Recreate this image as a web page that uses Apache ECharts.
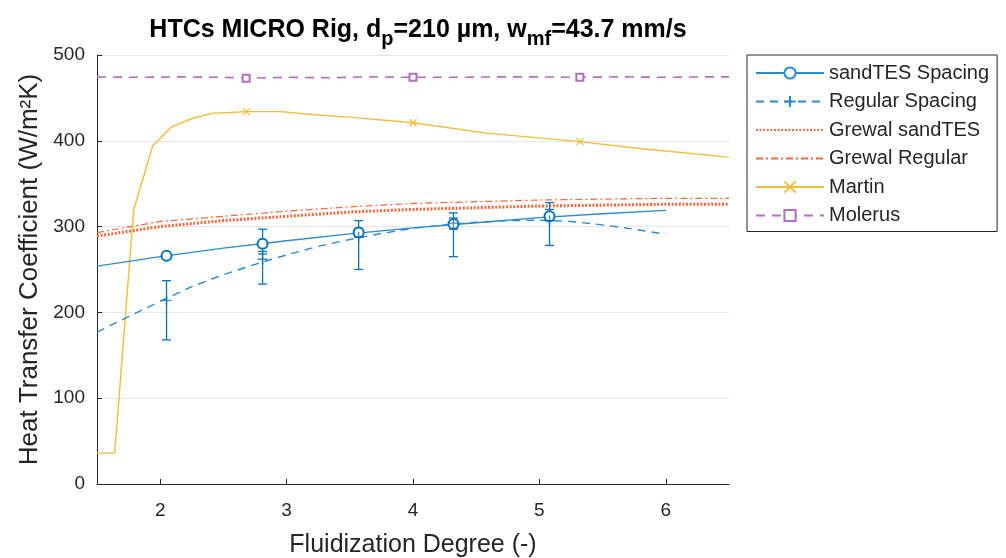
<!DOCTYPE html>
<html>
<head>
<meta charset="utf-8">
<script src="https://cdn.jsdelivr.net/npm/echarts@6/dist/echarts.min.js"></script>
<style>
html,body{margin:0;padding:0;background:#fff;}
#chart{width:1006px;height:558px;}
</style>
</head>
<body>
<div id="chart"></div>
<script>
// ---- data ----
const xTicks = [2, 3, 4, 5, 6];
const yTicks = [0, 100, 200, 300, 400, 500];

// sandTES Spacing: fit curve + measured points with error bars
const sandFitX = [1.5, 2, 2.5, 3, 3.5, 4, 4.5, 5, 5.5, 6];
const sandFitY = [254, 265, 275, 283.5, 291.5, 298.5, 304.5, 310.5, 315, 319];
const sandPtX = [2.05, 2.81, 3.57, 4.32, 5.08];
const sandPtY = [266, 280, 293, 303, 312];
const sandErrLo = [263, 268, 288, 297, 307];
const sandErrHi = [269, 297, 307, 310, 320];

// Regular Spacing: fit curve + measured points with error bars
const regFitX = [1.5, 1.75, 2, 2.25, 2.5, 2.75, 3, 3.25, 3.5, 3.75, 4, 4.25, 4.5, 4.75, 5, 5.25, 5.5, 5.75, 6];
const regFitY = [177, 195, 213, 230, 244, 256, 267, 277, 285, 292, 298, 302, 305, 307, 307.5, 306, 302, 297, 291];
const regPtX = [2.05, 2.81, 3.57, 4.32, 5.08];
const regPtY = [214, 262, 288, 304, 307];
const regErrLo = [168, 233, 250, 265, 278];
const regErrHi = [237, 271, 298, 316, 328];

// Grewal correlations
const grewalX = [1.5, 2, 2.5, 3, 3.5, 4, 4.5, 5, 5.5, 6, 6.5];
const grewalSandY = [289, 300, 307, 312, 317, 320, 322, 324, 325, 326, 326];
const grewalRegY = [293, 306, 312, 318, 323, 327, 329, 331, 332, 333, 333];

// Martin correlation
const martinX = [1.5, 1.64, 1.79, 1.94, 2.09, 2.25, 2.41, 2.55, 2.68, 2.96, 3.17, 3.54, 4.0, 4.58, 5.32, 5.79, 6.5];
const martinY = [36, 36, 319, 394, 416, 426, 432, 433, 434, 434, 431, 427, 421, 409, 399, 391, 381];
const martinMarkX = [2.68, 4.0, 5.32];

// Molerus correlation
const molerusX = [1.5, 1.83, 2.16, 2.49, 2.68, 3.01, 3.34, 3.67, 4.0, 4.33, 4.66, 4.99, 5.32, 5.65, 5.98, 6.31, 6.5];
const molerusY = [474.5, 474, 474.5, 474, 473, 474, 473.5, 474.5, 474, 474, 474.5, 474.5, 474, 474.5, 474, 474.5, 474.5];
const molerusMarkX = [2.68, 4.0, 5.32];

// ---- build ----
const BLUE_LINE = '#2a8ccf';
const BLUE_BAR = '#0a72ba';
const ORANGE = '#f4683b';
const YELLOW = '#f5bb3a';
const PURPLE = '#b36ebf';
const TXT = '#262626';
const CLEAR = 'rgba(0,0,0,0)';
const FONT = '"Liberation Sans", Arial, Helvetica, sans-serif';

const zip = (xs, ys) => xs.map((x, i) => [x, ys[i]]);
const marked = (xs, ys, marks) => xs.map((x, i) => marks.includes(x) ? { value: [x, ys[i]] } : { value: [x, ys[i]], symbol: 'none' });

const PLUS = 'path://M5,0 L5,10 M0,5 L10,5';
const CROSS = 'path://M0,0 L10,10 M10,0 L0,10';

function errBar(color) {
  return function (params, api) {
    const x = api.value(0);
    const lo = api.coord([x, api.value(1)]);
    const hi = api.coord([x, api.value(2)]);
    const w = 4.5;
    const style = { stroke: color, lineWidth: 1.3, fill: null };
    return {
      type: 'group',
      children: [
        { type: 'line', shape: { x1: lo[0], y1: lo[1], x2: hi[0], y2: hi[1] }, style },
        { type: 'line', shape: { x1: lo[0] - w, y1: lo[1], x2: lo[0] + w, y2: lo[1] }, style },
        { type: 'line', shape: { x1: hi[0] - w, y1: hi[1], x2: hi[0] + w, y2: hi[1] }, style }
      ]
    };
  };
}

const chart = echarts.init(document.getElementById('chart'), null, { renderer: 'canvas' });

const option = {
  animation: false,
  backgroundColor: '#ffffff',
  textStyle: { fontFamily: FONT, color: TXT },
  title: {
    text: '{a|HTCs MICRO Rig, d}{s|p}{a|=210 µm, w}{s|mf}{a|=43.7 mm/s}',
    left: 413,
    textAlign: 'center',
    top: 13,
    textStyle: {
      rich: {
        a: { fontFamily: FONT, fontSize: 25, fontWeight: 'bold', color: '#000', lineHeight: 32, verticalAlign: 'top' },
        s: { fontFamily: FONT, fontSize: 20, fontWeight: 'bold', color: '#000', lineHeight: 32, verticalAlign: 'top', padding: [11, 0, 0, 0] }
      }
    }
  },
  grid: { left: 97, right: 277, top: 55, bottom: 74, containLabel: false, outerBoundsMode: 'none' },
  legend: {
    orient: 'vertical',
    left: 747,
    top: 55,
    padding: [8, 8, 6, 8],
    backgroundColor: '#fff',
    borderColor: TXT,
    borderWidth: 1,
    borderRadius: 0,
    itemWidth: 68,
    itemHeight: 14,
    itemGap: 8.5,
    textStyle: { fontFamily: FONT, fontSize: 20, color: TXT, lineHeight: 20 },
    data: ['sandTES Spacing', 'Regular Spacing', 'Grewal sandTES', 'Grewal Regular', 'Martin', 'Molerus']
  },
  xAxis: {
    type: 'value',
    min: 1.5,
    max: 6.5,
    name: 'Fluidization Degree (-)',
    nameLocation: 'middle',
    nameGap: 49,
    nameTextStyle: { fontFamily: FONT, fontSize: 25, color: TXT },
    axisLine: { show: true, onZero: false, lineStyle: { color: TXT, width: 1 } },
    axisTick: { show: true, inside: true, length: 5, customValues: xTicks, lineStyle: { color: TXT } },
    axisLabel: { customValues: xTicks, fontFamily: FONT, fontSize: 19, color: TXT, margin: 17 },
    splitLine: { show: false }
  },
  yAxis: {
    type: 'value',
    min: 0,
    max: 500,
    interval: 100,
    name: 'Heat Transfer Coefficient (W/m²K)',
    nameLocation: 'middle',
    nameGap: 54,
    nameTextStyle: { fontFamily: FONT, fontSize: 26, color: TXT },
    axisLine: { show: true, lineStyle: { color: TXT, width: 1 } },
    axisTick: { show: true, inside: true, length: 5, lineStyle: { color: TXT } },
    axisLabel: { fontFamily: FONT, fontSize: 19, color: TXT, margin: 12 },
    splitLine: { show: true, lineStyle: { color: '#e6e6e6', width: 1 } }
  },
  series: [
    {
      name: 'sandTES Spacing', type: 'line', data: zip(sandFitX, sandFitY),
      symbol: 'emptyCircle', symbolSize: 12, showSymbol: false,
      lineStyle: { color: BLUE_LINE, width: 1.3, type: 'solid' },
      itemStyle: { color: BLUE_LINE, borderColor: BLUE_LINE, borderWidth: 1.3 },
      z: 5
    },
    {
      name: 'Regular Spacing', type: 'line', data: zip(regFitX, regFitY),
      symbol: PLUS, symbolSize: 14, showSymbol: false,
      lineStyle: { color: BLUE_LINE, width: 1.4, type: [8, 6] },
      itemStyle: { color: BLUE_LINE, borderColor: BLUE_LINE, borderWidth: 1.3 },
      z: 5
    },
    {
      name: 'Grewal sandTES', type: 'line', data: zip(grewalX, grewalSandY),
      symbol: 'circle', showSymbol: false,
      lineStyle: { color: ORANGE, width: 3, type: [2, 1.6] },
      itemStyle: { color: CLEAR, borderColor: CLEAR, borderWidth: 0 },
      z: 4
    },
    {
      name: 'Grewal Regular', type: 'line', data: zip(grewalX, grewalRegY),
      symbol: 'circle', showSymbol: false,
      lineStyle: { color: ORANGE, width: 1.2, type: [7, 3, 2, 3] },
      itemStyle: { color: CLEAR, borderColor: CLEAR, borderWidth: 0 },
      z: 4
    },
    {
      name: 'Martin', type: 'line', data: marked(martinX, martinY, martinMarkX),
      symbol: CROSS, symbolSize: 7, showSymbol: true,
      lineStyle: { color: YELLOW, width: 1.4 },
      itemStyle: { color: YELLOW, borderColor: YELLOW, borderWidth: 1.2 },
      z: 4
    },
    {
      name: 'Molerus', type: 'line', data: marked(molerusX, molerusY, molerusMarkX),
      symbol: 'emptyRect', symbolSize: 7, showSymbol: true,
      lineStyle: { color: PURPLE, width: 1.6, type: [9, 7] },
      itemStyle: { color: PURPLE, borderColor: PURPLE, borderWidth: 1.2 },
      z: 4
    },
    {
      name: 'sandTES Spacing', type: 'custom', renderItem: errBar(BLUE_BAR),
      data: sandPtX.map((x, i) => [x, sandErrLo[i], sandErrHi[i]]), z: 6
    },
    {
      name: 'Regular Spacing', type: 'custom', renderItem: errBar(BLUE_BAR),
      data: regPtX.map((x, i) => [x, regErrLo[i], regErrHi[i]]), z: 6
    },
    {
      name: 'sandTES Spacing', type: 'scatter', data: zip(sandPtX, sandPtY),
      symbol: 'emptyCircle', symbolSize: 10,
      itemStyle: { color: BLUE_BAR, borderColor: BLUE_BAR, borderWidth: 1.4, opacity: 1 }, z: 7
    },
    {
      name: 'Regular Spacing', type: 'scatter', data: zip(regPtX, regPtY),
      symbol: PLUS, symbolSize: 10,
      itemStyle: { color: BLUE_BAR, borderColor: BLUE_BAR, borderWidth: 1.4 }, z: 7
    }
  ]
};
chart.setOption(option);
</script>
</body>
</html>
